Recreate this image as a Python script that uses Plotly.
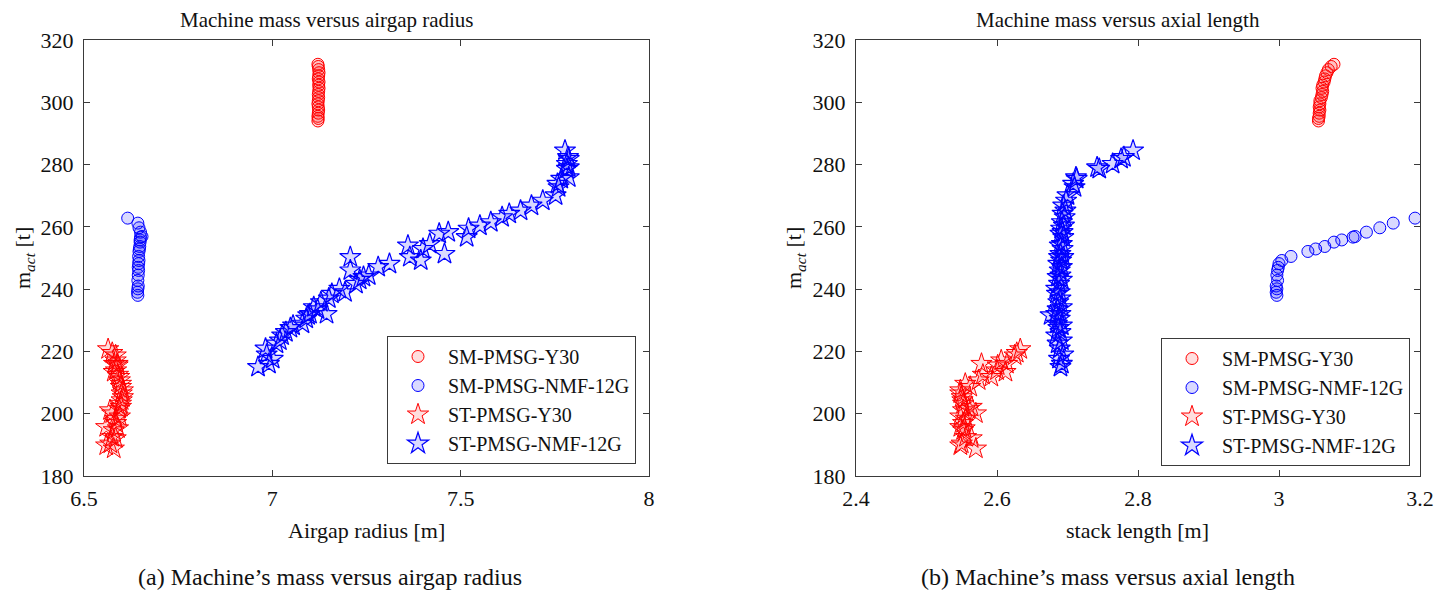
import plotly.graph_objects as go

# ---------------- data ----------------
series_names = ["SM-PMSG-Y30", "SM-PMSG-NMF-12G", "ST-PMSG-Y30", "ST-PMSG-NMF-12G"]

sm_y30_mass = [294.0, 294.8, 295.5, 296.5, 297.5, 298.5, 299.5, 300.5, 301.5, 302.5,
               303.5, 304.5, 305.5, 306.5, 307.5, 308.5, 309.5, 310.5, 311.5, 312.2]
sm_y30_radius = [7.121, 7.122, 7.121, 7.122, 7.123, 7.122, 7.121, 7.122, 7.123, 7.122,
                 7.123, 7.124, 7.123, 7.124, 7.122, 7.123, 7.124, 7.123, 7.122, 7.121]
sm_y30_length = [3.056, 3.056, 3.057, 3.057, 3.058, 3.057, 3.058, 3.058, 3.060, 3.061,
                 3.062, 3.061, 3.062, 3.064, 3.065, 3.066, 3.068, 3.070, 3.074, 3.078]

sm_nmf_mass = [238.0, 239.0, 240.1, 241.0, 242.8, 244.5, 246.0, 247.0, 248.2, 249.2, 250.5,
               252.1, 252.9, 253.7, 255.1, 255.8, 256.7, 256.9, 258.3, 259.7, 261.2, 262.8]
sm_nmf_radius = [6.643, 6.642, 6.643, 6.644, 6.643, 6.644, 6.645, 6.644, 6.645, 6.646, 6.645,
                 6.646, 6.647, 6.648, 6.649, 6.649, 6.650, 6.654, 6.650, 6.646, 6.643, 6.616]
sm_nmf_length = [2.997, 2.996, 2.997, 2.996, 2.998, 2.997, 2.998, 2.999, 3.000, 3.004, 3.017,
                 3.041, 3.052, 3.065, 3.078, 3.089, 3.105, 3.108, 3.124, 3.143, 3.162, 3.193]

st_y30_mass = [188.8, 189.8, 190.4, 192.1, 192.5, 194.7, 195.3, 195.7, 197.0, 198.4, 199.1,
               200.1, 201.1, 201.6, 202.2, 203.2, 204.3, 205.3, 206.5, 207.5, 208.6, 209.6,
               210.7, 211.8, 212.5, 213.4, 213.9, 215.5, 216.0, 217.1, 216.0, 218.7, 219.5, 220.7]
st_y30_radius = [6.579, 6.559, 6.570, 6.584, 6.575, 6.579, 6.590, 6.559, 6.585, 6.584, 6.595,
                 6.575, 6.569, 6.593, 6.598, 6.598, 6.600, 6.603, 6.600, 6.603, 6.598, 6.598,
                 6.595, 6.593, 6.590, 6.579, 6.585, 6.589, 6.589, 6.584, 6.580, 6.584, 6.575, 6.564]
st_y30_length = [2.570, 2.548, 2.550, 2.564, 2.556, 2.552, 2.554, 2.548, 2.552, 2.556, 2.548,
                 2.570, 2.552, 2.560, 2.564, 2.552, 2.551, 2.550, 2.548, 2.548, 2.562, 2.555,
                 2.574, 2.592, 2.580, 2.612, 2.600, 2.601, 2.578, 2.606, 2.614, 2.625, 2.628, 2.633]

st_nmf_mass = [215.0, 216.0, 217.6, 219.0, 220.9, 222.5, 223.5, 225.1, 226.2, 227.5, 228.3,
               228.9, 230.5, 231.6, 232.0, 232.0, 233.5, 234.2, 235.8, 237.0, 238.5, 239.0,
               240.1, 241.7, 243.0, 243.9, 244.4, 246.0, 247.1, 248.1, 249.2, 250.3, 250.3,
               251.3, 252.9, 254.0, 254.5, 256.7, 257.8, 258.3, 259.4, 260.4, 261.5, 263.1,
               264.2, 265.2, 266.8, 268.4, 270.1, 272.7, 273.8, 275.4, 275.9, 278.6, 279.1,
               280.2, 281.8, 282.4, 284.5]
st_nmf_radius = [6.962, 6.991, 7.001, 6.985, 6.982, 7.011, 7.020, 7.026, 7.036, 7.048, 7.055,
                 7.080, 7.090, 7.095, 7.100, 7.144, 7.120, 7.110, 7.129, 7.150, 7.158, 7.193,
                 7.178, 7.222, 7.232, 7.242, 7.256, 7.207, 7.281, 7.311, 7.394, 7.207, 7.365,
                 7.457, 7.400, 7.360, 7.418, 7.516, 7.443, 7.467, 7.521, 7.551, 7.580, 7.610,
                 7.629, 7.659, 7.688, 7.718, 7.752, 7.760, 7.757, 7.767, 7.787, 7.782, 7.787,
                 7.782, 7.787, 7.785, 7.777]
st_nmf_length = [2.690, 2.692, 2.688, 2.694, 2.689, 2.686, 2.692, 2.684, 2.690, 2.687, 2.692,
                 2.685, 2.689, 2.676, 2.690, 2.684, 2.686, 2.692, 2.687, 2.690, 2.685, 2.689,
                 2.684, 2.688, 2.692, 2.686, 2.690, 2.689, 2.692, 2.687, 2.691, 2.688, 2.694,
                 2.690, 2.693, 2.689, 2.692, 2.694, 2.690, 2.693, 2.691, 2.695, 2.692, 2.696,
                 2.693, 2.697, 2.694, 2.698, 2.700, 2.710, 2.708, 2.713, 2.712, 2.745, 2.742,
                 2.764, 2.776, 2.780, 2.793]

y_ticks = [180, 200, 220, 240, 260, 280, 300, 320]
x1_ticks = [6.5, 7, 7.5, 8]
x2_ticks = [2.4, 2.6, 2.8, 3, 3.2]

# ---------------- styling ----------------
W, H = 1453, 593
FONT = "'Liberation Serif', 'Times New Roman', Times, serif"
AX = "#3a3a3a"
TXT = "#111111"

styles = [
    dict(symbol="circle", size=12, color="rgba(255,0,0,0.13)", line=dict(color="#ff0000", width=1)),
    dict(symbol="circle", size=12, color="rgba(0,0,255,0.15)", line=dict(color="#0000ff", width=1)),
    dict(symbol="star", size=16, color="rgba(255,0,0,0.13)", line=dict(color="#ff0000", width=1)),
    dict(symbol="star", size=16, color="rgba(0,0,255,0.15)", line=dict(color="#0000ff", width=1.2)),
]

left_sets = [(sm_y30_radius, sm_y30_mass), (sm_nmf_radius, sm_nmf_mass),
             (st_y30_radius, st_y30_mass), (st_nmf_radius, st_nmf_mass)]
right_sets = [(sm_y30_length, sm_y30_mass), (sm_nmf_length, sm_nmf_mass),
              (st_y30_length, st_y30_mass), (st_nmf_length, st_nmf_mass)]

fig = go.Figure()
for name, st, (x, y) in zip(series_names, styles, left_sets):
    fig.add_trace(go.Scatter(x=x, y=y, mode="markers", name=name, marker=st,
                             xaxis="x", yaxis="y", legend="legend"))
for name, st, (x, y) in zip(series_names, styles, right_sets):
    fig.add_trace(go.Scatter(x=x, y=y, mode="markers", name=name, marker=st,
                             xaxis="x2", yaxis="y2", legend="legend2"))

def px_x(p):
    return p / W

def px_y(p):
    return 1 - p / H

L1, R1 = 84, 649
L2, R2 = 856, 1420
TOP, BOT = 40, 476

axis_common = dict(showgrid=False, zeroline=False, showline=True, linecolor=AX, linewidth=1,
                   mirror="ticks", ticks="inside", ticklen=6, tickcolor=AX, tickwidth=1,
                   automargin=False,
                   tickfont=dict(family=FONT, size=22, color=TXT))

legend_common = dict(xanchor="right", yanchor="bottom", bordercolor=AX, borderwidth=1,
                     bgcolor="white", font=dict(family=FONT, size=20, color=TXT),
                     tracegroupgap=0, itemwidth=50, entrywidth=230, entrywidthmode="pixels")

fig.update_layout(
    width=W, height=H,
    margin=dict(l=0, r=0, t=0, b=0, autoexpand=False),
    paper_bgcolor="white", plot_bgcolor="white",
    font=dict(family=FONT, color=TXT),
    xaxis=dict(domain=[px_x(L1), px_x(R1)], range=[6.5, 8], tickvals=x1_ticks,
               anchor="y", ticklabelstandoff=3, **axis_common),
    yaxis=dict(domain=[px_y(BOT), px_y(TOP)], range=[180, 320], tickvals=y_ticks,
               anchor="x", ticklabelstandoff=5, **axis_common),
    xaxis2=dict(domain=[px_x(L2), px_x(R2)], range=[2.4, 3.2], tickvals=x2_ticks,
                anchor="y2", ticklabelstandoff=3, **axis_common),
    yaxis2=dict(domain=[px_y(BOT), px_y(TOP)], range=[180, 320], tickvals=y_ticks,
                anchor="x2", ticklabelstandoff=5, **axis_common),
    legend=dict(x=px_x(636), y=px_y(464), **legend_common),
    legend2=dict(x=px_x(1410), y=px_y(466), **legend_common),
    showlegend=True,
)

def ann(text, xp, yp, size, angle=0):
    fig.add_annotation(text=text, x=px_x(xp), y=px_y(yp), xref="paper", yref="paper",
                       showarrow=False, xanchor="center", yanchor="middle",
                       textangle=angle, font=dict(family=FONT, size=size, color=TXT))

ann("Machine mass versus airgap radius", 327, 20, 21)
ann("Machine mass versus axial length", 1118, 20, 21)
ann("Airgap radius [m]", 366, 530, 22)
ann("stack length [m]", 1137, 530, 22)
ann("m<sub><i>act</i></sub> [t]", 24, 258, 22, -90)
ann("m<sub><i>act</i></sub> [t]", 795, 258, 22, -90)
ann("(a) Machine\u2019s mass versus airgap radius", 330, 577, 24)
ann("(b) Machine\u2019s mass versus axial length", 1108, 577, 24)

fig.write_html(
    "out.html",
    config={"displayModeBar": False},
    post_script="document.documentElement.style.margin='0';"
                "document.body.style.margin='0';"
                "document.body.style.overflow='hidden';",
)
